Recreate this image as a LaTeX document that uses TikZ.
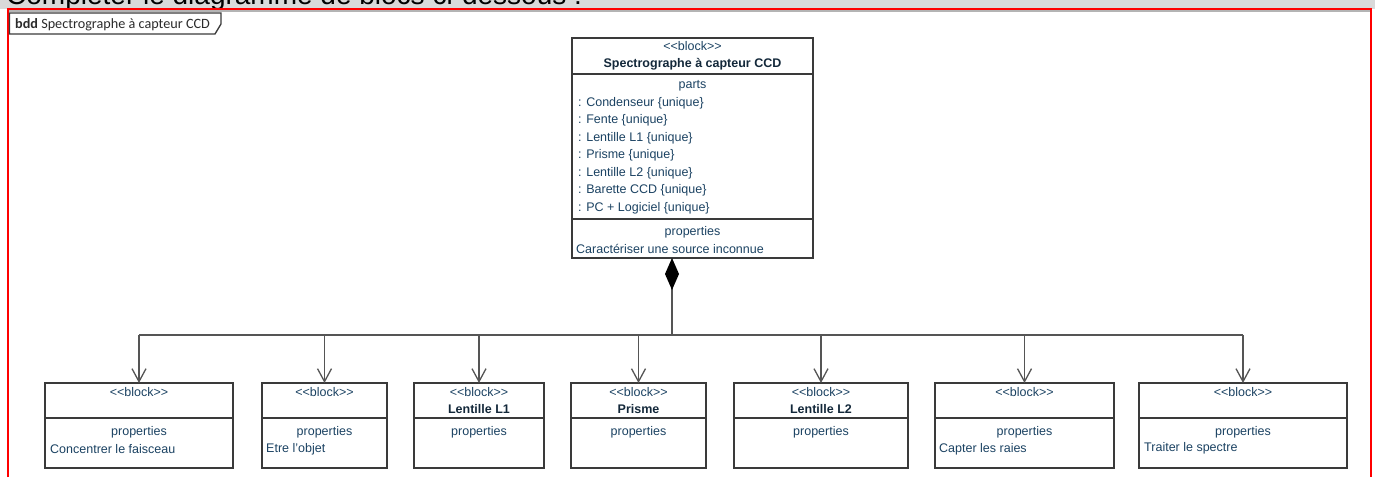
\documentclass[tikz,border=0pt]{standalone}
\usepackage{fontspec}
\setmainfont{Liberation Sans}
\newfontfamily\tabfont{Carlito}
\usetikzlibrary{arrows.meta,calc}
\definecolor{txtc}{HTML}{1B4262}
\definecolor{namec}{HTML}{13283A}
\definecolor{boxc}{HTML}{3A3A3A}
\definecolor{linec}{HTML}{555555}
\definecolor{bandc}{HTML}{D9D9D9}
\definecolor{shadc}{HTML}{B4B4B4}
\definecolor{framec}{HTML}{FF0000}
\definecolor{tabtxt}{HTML}{2B2B2B}
\newcommand\stereo{<\kern0pt<block>\kern0pt>}
\newcommand\bbox[3]{%
  \node[blk, minimum width=#3pt, minimum height=85pt] (#1) at (#2,383) {};
  \draw[sep] (#2,418) -- ({#2+#3},418);
  \node[txt] (#1st) at ({#2+#3/2},392) {\stereo};
  \node[txt] (#1pr) at ({#2+#3/2},432) {properties};
}
\begin{document}
\begin{tikzpicture}[x=1pt,y=-1pt,
  blk/.style={draw=boxc, line width=1.2pt, anchor=north west, inner sep=0pt, outer sep=0pt},
  txt/.style={font=\fontsize{12.5}{14}\selectfont, text=txtc, inner sep=0pt},
  ltxt/.style={txt, anchor=west},
  nm/.style={font=\fontsize{12.5}{14}\selectfont\bfseries, text=namec, inner sep=0pt},
  sep/.style={draw=boxc, line width=1.2pt},
  conn/.style={draw=linec, line width=1.4pt},
  arr/.style={conn, -{Straight Barb[length=13pt,width=14pt,line width=1.3pt]}},
]
\useasboundingbox (0,0) rectangle (1375,477);
% top band
\fill[bandc] (0,0) rectangle (1375,8.5);
\begin{scope}
  \clip (0,0) rectangle (1375,8.5);
  \node[anchor=base west, font=\fontsize{28}{30}\selectfont, inner sep=0pt] (title) at (6,4.5) {Compléter le diagramme de blocs ci-dessous :};
\end{scope}
% frame
\fill[shadc] (8.5,9.5) rectangle (1370,12);
\draw[framec, line width=2pt] (7.5,477) -- (7.5,9) -- (1371,9) -- (1371,477);
% tab
\draw[boxc, line width=1.3pt] (9.5,13) -- (221,13) -- (221,24) -- (215,34) -- (9.5,34) -- cycle;
\node[anchor=base west, font=\tabfont\fontsize{14.2}{15}\selectfont, text=tabtxt, inner sep=0pt] (tab) at (15,28.5) {\textbf{bdd} Spectrographe à capteur CCD};
% main block
\node[blk, minimum width=241pt, minimum height=220pt] (main) at (572,38) {};
\draw[sep] (572,74) -- (813,74);
\draw[sep] (572,219) -- (813,219);
\node[txt] (mst) at (692.5,46) {\stereo};
\node[nm] (mname) at (692.5,64) {Spectrographe à capteur CCD};
\node[txt] (mparts) at (692.5,86) {parts};
\node[ltxt] (p1) at (578,103) {: Condenseur \{unique\}};
\node[ltxt] (p2) at (578,120.5) {: Fente \{unique\}};
\node[ltxt] (p3) at (578,138) {: Lentille L1 \{unique\}};
\node[ltxt] (p4) at (578,155.5) {: Prisme \{unique\}};
\node[ltxt] (p5) at (578,173) {: Lentille L2 \{unique\}};
\node[ltxt] (p6) at (578,190.5) {: Barette CCD \{unique\}};
\node[ltxt] (p7) at (578,208) {: PC + Logiciel \{unique\}};
\node[txt] (mprop) at (692.5,232) {properties};
\node[ltxt] (mp1) at (576,249) {Caractériser une source inconnue};
% bottom blocks
\bbox{b1}{45}{188}
\node[ltxt] (b1t) at (50,449) {Concentrer le faisceau};
\bbox{b2}{262}{125}
\node[ltxt] (b2t) at (266,449) {Etre l'objet};
\bbox{b3}{414}{130}
\node[nm] (b3n) at (479,409) {Lentille L1};
\bbox{b4}{571}{135}
\node[nm] (b4n) at (638.5,409) {Prisme};
\bbox{b5}{734}{174}
\node[nm] (b5n) at (821,409) {Lentille L2};
\bbox{b6}{935}{179}
\node[ltxt] (b6t) at (939,449) {Capter les raies};
\bbox{b7}{1139}{208}
\node[ltxt] (b7t) at (1144,448) {Traiter le spectre};
% connectors
\coordinate (dtop) at ([xshift=-20.5pt]main.south);
\coordinate (junc) at (dtop |- 0,335);
\draw[conn, {Kite[length=32pt,width=14pt,inset=16pt,black]}-] (dtop) -- (junc);
\draw[conn] (b1.north |- junc) -- (b7.north |- junc);
\foreach \b in {b1,b2,b3,b4,b5,b6,b7}{
  \draw[arr] (\b.north |- junc) -- (\b.north);
}
\end{tikzpicture}
\end{document}
